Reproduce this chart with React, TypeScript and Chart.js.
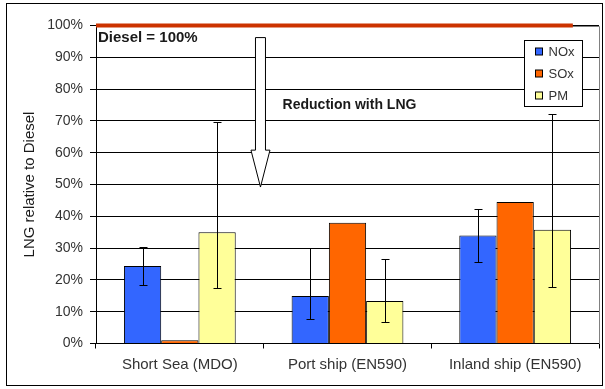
import React, { useEffect, useRef } from "react";
import { Chart, registerables } from "chart.js";

Chart.register(...registerables);

const CATEGORIES = ["Short Sea (MDO)", "Port ship (EN590)", "Inland ship (EN590)"];
const SERIES_NAMES = ["NOx", "SOx", "PM"];
const NOX = [24.4, 14.9, 34];
const SOX = [1, 38, 44.5];
const PM = [35, 13.4, 35.8];
const NOX_LOW = [18.3, 7.7, 25.6];
const NOX_HIGH = [30.4, 30, 42.3];
const PM_LOW = [17.5, 6.9, 17.9];
const PM_HIGH = [69.7, 26.7, 72.3];
const DIESEL_LEVEL = 100;
const Y_MIN = 0;
const Y_MAX = 100;
const Y_STEP = 10;
const ARROW_FROM = 96.2;
const ARROW_HEAD = 60.8;
const ARROW_TO = 49.2;
const DIESEL_LABEL = "Diesel = 100%";
const ARROW_LABEL = "Reduction with LNG";
const Y_TITLE = "LNG relative to Diesel";

const COLORS = ["#3366FF", "#FF6600", "#FFFF99"];
const FONT = "'Liberation Sans', Arial, sans-serif";

const decorPlugin = {
  id: "decor",
  beforeDatasetsDraw(chart: any) {
    const { ctx, chartArea: a } = chart;
    ctx.save();
    ctx.strokeStyle = "#808080";
    ctx.lineWidth = 1;
    ctx.beginPath();
    ctx.moveTo(a.left, Math.round(a.top) + 0.5);
    ctx.lineTo(Math.round(a.right) + 0.5, Math.round(a.top) + 0.5);
    ctx.lineTo(Math.round(a.right) + 0.5, Math.round(a.bottom));
    ctx.stroke();
    ctx.restore();
  },
  afterDatasetsDraw(chart: any) {
    const { ctx, chartArea: a, scales } = chart;
    const y = scales.y;
    ctx.save();
    // error bars
    ctx.strokeStyle = "#000";
    ctx.lineWidth = 1;
    chart.data.datasets.forEach((ds: any, i: number) => {
      if (!ds.errLow) return;
      const meta = chart.getDatasetMeta(i);
      meta.data.forEach((el: any, j: number) => {
        const x = Math.round(el.x) + 0.5;
        const yl = Math.round(y.getPixelForValue(ds.errLow[j])) + 0.5;
        const yh = Math.round(y.getPixelForValue(ds.errHigh[j])) + 0.5;
        ctx.beginPath();
        ctx.moveTo(x, yl);
        ctx.lineTo(x, yh);
        ctx.moveTo(x - 4, yl);
        ctx.lineTo(x + 4, yl);
        ctx.moveTo(x - 4, yh);
        ctx.lineTo(x + 4, yh);
        ctx.stroke();
      });
    });
    // diesel line
    const yd = y.getPixelForValue(DIESEL_LEVEL);
    ctx.strokeStyle = "#CC3300";
    ctx.lineWidth = 4;
    ctx.beginPath();
    ctx.moveTo(a.left, yd);
    ctx.lineTo(a.left + (a.right - a.left) * 0.948, yd);
    ctx.stroke();
    // arrow
    const ax = a.left + (a.right - a.left) * 0.327;
    const yt = y.getPixelForValue(ARROW_FROM);
    const yhd = y.getPixelForValue(ARROW_HEAD);
    const ytip = y.getPixelForValue(ARROW_TO);
    ctx.beginPath();
    ctx.moveTo(ax - 5, yt);
    ctx.lineTo(ax + 5, yt);
    ctx.lineTo(ax + 5, yhd);
    ctx.lineTo(ax + 9.5, yhd);
    ctx.lineTo(ax, ytip);
    ctx.lineTo(ax - 9.5, yhd);
    ctx.lineTo(ax - 5, yhd);
    ctx.closePath();
    ctx.fillStyle = "#fff";
    ctx.fill();
    ctx.strokeStyle = "#000";
    ctx.lineWidth = 1;
    ctx.stroke();
    // texts
    ctx.fillStyle = "#1a1a1a";
    ctx.textBaseline = "alphabetic";
    ctx.textAlign = "left";
    ctx.font = `bold 15px ${FONT}`;
    ctx.fillText(DIESEL_LABEL, a.left + 2, yd + 16.5);
    ctx.font = `bold 14px ${FONT}`;
    ctx.fillText(ARROW_LABEL, a.left + (a.right - a.left) * 0.371, y.getPixelForValue(ARROW_FROM) + 71);
    ctx.restore();
  },
  afterDraw(chart: any) {
    const { ctx, chartArea: a, width, height } = chart;
    ctx.save();
    // legend
    const bx = Math.round(a.right) - 75 + 0.5;
    const by = Math.round(a.top) + 14 + 0.5;
    const bw = 58;
    const bh = 66;
    ctx.fillStyle = "#fff";
    ctx.fillRect(bx, by, bw, bh);
    ctx.strokeStyle = "#000";
    ctx.lineWidth = 1;
    ctx.strokeRect(bx, by, bw, bh);
    ctx.font = `13px ${FONT}`;
    ctx.textBaseline = "middle";
    ctx.textAlign = "left";
    chart.data.datasets.forEach((ds: any, i: number) => {
      const cy = by + 11 + i * 22;
      ctx.fillStyle = ds.backgroundColor;
      ctx.fillRect(bx + 11, Math.round(cy - 4), 7, 7);
      ctx.strokeRect(bx + 11, Math.round(cy - 4), 7, 7);
      ctx.fillStyle = "#333";
      ctx.fillText(ds.label, bx + 24, cy + 1);
    });
    // outer frame
    ctx.strokeRect(6.5, 3.5, width - 9, height - 7);
    ctx.restore();
  },
};

export default function App() {
  const ref = useRef<HTMLCanvasElement | null>(null);
  useEffect(() => {
    if (!ref.current) return;
    const values = [NOX, SOX, PM];
    const lows = [NOX_LOW, null, PM_LOW];
    const highs = [NOX_HIGH, null, PM_HIGH];
    const chart = new Chart(ref.current, {
      type: "bar",
      data: {
        labels: CATEGORIES,
        datasets: SERIES_NAMES.map((name, i) => ({
          label: name,
          data: values[i],
          backgroundColor: COLORS[i],
          borderColor: "#000",
          borderWidth: 1,
          categoryPercentage: 2 / 3,
          barPercentage: 1,
          errLow: lows[i],
          errHigh: highs[i],
        })) as any,
      },
      options: {
        animation: false,
        responsive: false,
        devicePixelRatio: 1,
        layout: { padding: { left: 0, right: 6, top: 25.5, bottom: 0 } },
        plugins: { legend: { display: false }, tooltip: { enabled: false } },
        scales: {
          x: {
            afterFit: (s: any) => {
              s.height = 45.5;
            },
            grid: {
              offset: true,
              drawOnChartArea: false,
              color: "#000",
              tickLength: 5,
            },
            border: { color: "#000" },
            ticks: {
              color: "#333",
              font: { family: FONT, size: 15 },
              padding: 7,
            },
          },
          y: {
            min: Y_MIN,
            max: Y_MAX,
            afterFit: (s: any) => {
              s.width = 96;
            },
            grid: { color: "#000", tickLength: 6 },
            border: { color: "#000" },
            ticks: {
              stepSize: Y_STEP,
              color: "#333",
              font: { family: FONT, size: 14 },
              padding: 7,
              callback: (v: any) => v + "%",
            },
            title: {
              display: true,
              text: Y_TITLE,
              color: "#1a1a1a",
              font: { family: FONT, size: 15 },
              padding: { top: 21, bottom: 0 },
            },
          },
        },
      },
      plugins: [decorPlugin],
    });
    return () => chart.destroy();
  }, []);
  return (
    <div style={{ position: "fixed", left: 0, top: 0, width: 605, height: 389, background: "#fff" }}>
      <canvas ref={ref} width={605} height={389} />
    </div>
  );
}
